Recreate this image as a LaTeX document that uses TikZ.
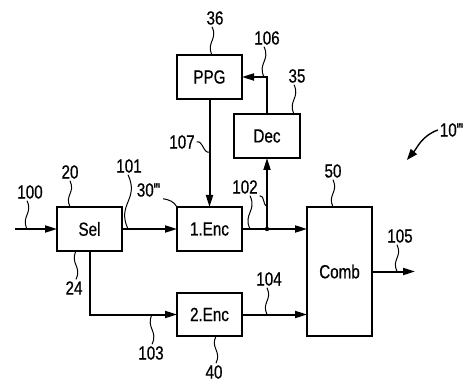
\documentclass[tikz,border=0pt]{standalone}
\usepackage{fontspec}
\setmainfont{Liberation Sans}[FakeStretch=0.8, FakeBold=0.6]
\usetikzlibrary{arrows.meta, positioning}

\begin{document}
\begin{tikzpicture}[
            x = 1pt, y = 1pt,
            > = {Triangle[length=12pt, width=7pt]}, % arrow head style
            font = \fontsize{19}{22}\selectfont,
            line width = 2pt % line style
        ]

        \tikzset{
            blk/.style = {draw, line width = 2.2pt, minimum width = 65pt,
                minimum height = 44pt, inner sep = 0pt, outer sep = 0pt},
            lbl/.style = {inner sep = 1pt},
            lead/.style = {line width = 1pt},
            wavedn/.style = {out = -65, in = 115, looseness = 1.3},
            waveup/.style = {out = 65, in = -115, looseness = 1.3}
        }

        \useasboundingbox (0,0) rectangle (465,383);

        % blocks
        \node[blk] (sel) at (89.5,154) {Sel};
        \node[blk] (enc1) [right=55pt of sel] {1.Enc};
        \node[blk] (ppg) [above=108pt of enc1] {PPG};
        \node[blk, minimum height = 43pt] (enc2) [below=42pt of enc1] {2.Enc};
        \node[blk, minimum height = 129pt] (comb)
            [below right=0pt and 65pt of enc1.north east] {Comb};
        \coordinate[right=25pt of enc1.east] (j);
        \node[blk, minimum width = 66pt] (dec) [above=71pt of j] {Dec};
        \coordinate[left=42pt of sel.west] (in);
        \coordinate[right=43pt of comb.east] (out);

        % connections
        \draw[->] (in) -- (sel);
        \draw[->] (sel) -- (enc1);
        \draw[->] (enc1) -- (enc1 -| comb.west);
        \fill (j) circle (2.2pt);
        \draw[->] (j) -- (dec);
        \draw[->] (dec.north) |- (ppg);
        \draw[->] (ppg) -- (enc1);
        \draw[->] (sel.south) |- (enc2);
        \draw[->] (enc2) -- (enc2 -| comb.west);
        \draw[->] (comb) -- (out);

        % reference numerals
        \node[lbl] (l100) at (30,191) {100};
        \node[lbl] (l20) at (70,211) {20};
        \node[lbl] (l101) at (129,217) {101};
        \node[lbl] (l30) at (149,193)
            {30\kern-0.5pt\textquotesingle\kern-1.5pt\textquotesingle\kern-1.5pt\textquotesingle};
        \node[lbl] (l107) at (182,241) {107};
        \node[lbl] (l36) at (215,365) {36};
        \node[lbl] (l106) at (267,345) {106};
        \node[lbl] (l35) at (297,307) {35};
        \node[lbl] (l102) at (245,196) {102};
        \node[lbl] (l50) at (333,212) {50};
        \node[lbl] (l105) at (400,147) {105};
        \node[lbl] (l24) at (74,95) {24};
        \node[lbl] (l104) at (269,104) {104};
        \node[lbl] (l103) at (151,30) {103};
        \node[lbl] (l40) at (214,11) {40};
        \node[lbl] (l10) at (452,253)
            {10\kern-0.5pt\textquotesingle\kern-1.5pt\textquotesingle\kern-1.5pt\textquotesingle};

        % leaders
        \draw[lead] (l100.south) ++(-3,0) coordinate (a100) to[wavedn] (a100 |- in);
        \draw[lead] (l20.south) to[wavedn] (l20.south |- sel.north);
        \draw[lead] (l101.south) ++(-1,0) coordinate (a101) to[wavedn] (a101 |- sel.east);
        \draw[lead] (l30.south east) to[out = -10, in = 120] (enc1.north west);
        \draw[lead] (l107.east) to[out = 20, in = 200] ([yshift=-10pt]l107.east -| ppg.south);
        \draw[lead] (l36.south) ++(-3,0) coordinate (a36) to[wavedn] (a36 |- ppg.north);
        \draw[lead] (l106.south) ++(-3,0) coordinate (a106) to[wavedn] (a106 |- ppg.east);
        \draw[lead] (l35.south) ++(-3,0) coordinate (a35) to[wavedn] (a35 |- dec.north);
        \draw[lead] (l102.south) ++(5,0) coordinate (a102) to[wavedn] (a102 |- j);
        \draw[lead] (l102.south east) to[out = 0, in = 150] ([yshift=22pt]j);
        \draw[lead] (l50.south) to[wavedn] (l50.south |- comb.north);
        \draw[lead] (l105.south) ++(-3,0) coordinate (a105) to[wavedn] (a105 |- comb.east);
        \draw[lead] (l24.north) ++(2,0) coordinate (a24) to[waveup] (a24 |- sel.south);
        \draw[lead] (l104.south) ++(-2,0) coordinate (a104) to[wavedn] (a104 |- enc2.east);
        \draw[lead] (l103.north) ++(1,0) coordinate (a103) to[waveup] (a103 |- enc2.west);
        \draw[lead] (l40.north) ++(2,0) coordinate (a40) to[waveup] (a40 |- enc2.south);
        \draw[lead, line width = 1.4pt, -{Triangle[length=11pt, width=8pt]}]
            (l10.west) to[out = 200, in = 50] ++(-31,-30);

  \end{tikzpicture}
\end{document}
